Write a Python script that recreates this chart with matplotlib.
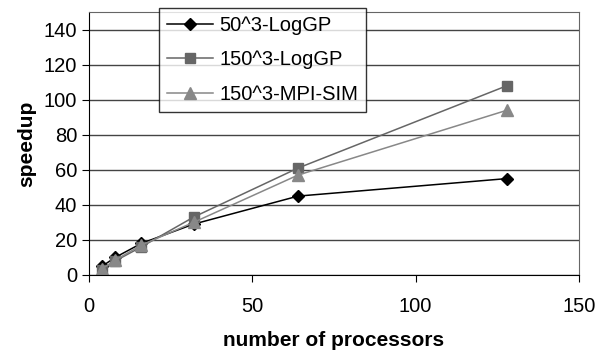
import numpy as np
import matplotlib.pyplot as plt

plt.rcParams['font.family'] = ['Liberation Sans', 'DejaVu Sans']

# processor counts and speedup values
procs = [4, 8, 16, 32, 64, 128]
speedup_50_loggp = [5, 10, 18, 29, 45, 55]
speedup_150_loggp = [3, 8, 16, 33, 61, 108]
speedup_150_mpisim = [3.5, 8.5, 17, 30, 57, 94]
labels = ['50^3-LogGP', '150^3-LogGP', '150^3-MPI-SIM']

fig = plt.figure(figsize=(5.98, 3.56), dpi=100)
ax = fig.add_axes([89 / 598, 1 - 275 / 356, 490 / 598, 263 / 356])

ax.plot(procs, speedup_50_loggp, color='black', marker='D', markersize=6, lw=1.1, label=labels[0])
ax.plot(procs, speedup_150_loggp, color='#666666', marker='s', markersize=7, lw=1.1, label=labels[1])
ax.plot(procs, speedup_150_mpisim, color='#888888', marker='^', markersize=8, lw=1.1, label=labels[2])

ax.set_xlim(0, 150)
ax.set_ylim(0, 150)
ax.set_xticks([0, 50, 100, 150])
ax.set_yticks(np.arange(0, 141, 20))
ax.yaxis.grid(True, color='#444444', lw=1.0)
ax.set_axisbelow(True)
ax.tick_params(axis='both', labelsize=14.5, direction='out', length=5, color='black')
ax.tick_params(axis='x', pad=11)
ax.spines['top'].set_color('#666666')
ax.spines['right'].set_color('#666666')
ax.spines['left'].set_color('black')
ax.spines['bottom'].set_color('black')

ax.set_xlabel('number of processors', fontsize=15, fontweight='bold', labelpad=11)
ax.set_ylabel('speedup', fontsize=15, fontweight='bold', labelpad=5)

leg = ax.legend(loc='upper left', bbox_to_anchor=(70 / 490, 1.015), fontsize=14.5,
                frameon=True, fancybox=False, edgecolor='black', handlelength=2.3,
                borderpad=0.4, labelspacing=0.76, handletextpad=0.3, borderaxespad=0)
leg.get_frame().set_linewidth(1.0)

fig.savefig('out.png', dpi=100)
